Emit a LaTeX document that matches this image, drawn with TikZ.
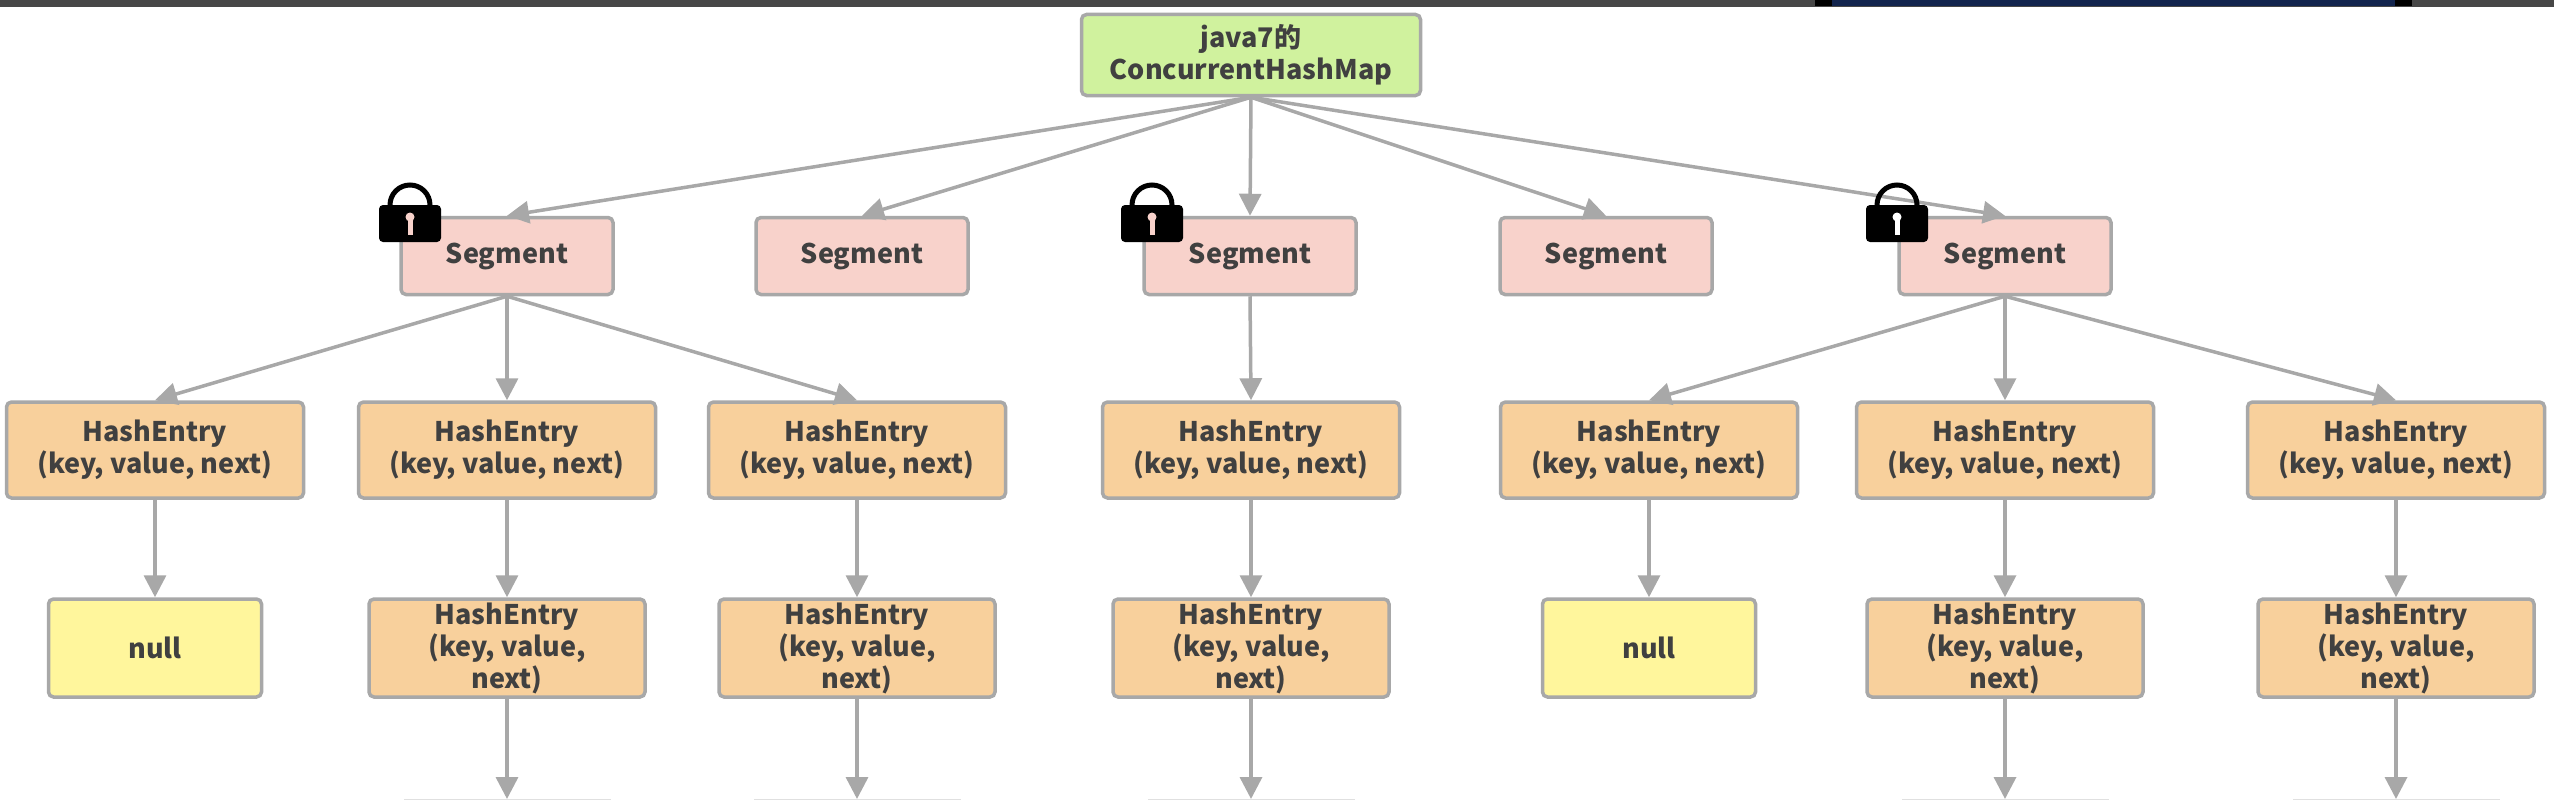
\documentclass[tikz,border=0pt]{standalone}
\usepackage{fontspec}
\usepackage{xcolor}
\setmainfont{Noto Sans CJK SC}
\usetikzlibrary{arrows.meta,positioning,calc}
\definecolor{rootgreen}{HTML}{D0F29E}
\definecolor{segpink}{HTML}{F8D2CB}
\definecolor{entryorange}{HTML}{F8D09C}
\definecolor{nullyellow}{HTML}{FFF69C}
\definecolor{edgegray}{HTML}{A8A8A8}
\definecolor{inkgray}{HTML}{404040}
\definecolor{stripnavy}{HTML}{12244D}
\tikzset{
  box/.style={draw=edgegray,line width=3.5pt,rounded corners=5pt,text=inkgray,align=center,
    font=\fontsize{27}{32}\selectfont\bfseries,inner sep=0pt},
  rootbox/.style={box,fill=rootgreen,minimum width=339pt,minimum height=81pt},
  segbox/.style={box,fill=segpink,minimum width=212pt,minimum height=77pt},
  entrybox/.style={box,fill=entryorange,minimum width=297pt,minimum height=96pt},
  smallentry/.style={box,fill=entryorange,minimum width=276pt,minimum height=98pt},
  nullbox/.style={box,fill=nullyellow,minimum width=213pt,minimum height=98pt},
  cutbox/.style={draw=black!12,line width=2pt,fill=white,minimum width=205pt,minimum height=20pt,inner sep=0pt},
  link/.style={draw=edgegray,line width=3.5pt,-{Triangle[length=22pt,width=22pt]}},
}
\newcommand{\padlock}[2]{%
  \draw[black,line width=5pt] (#1-20,222) -- (#1-20,205) arc[start angle=180,end angle=360,radius=20] -- (#1+20,222);
  \fill[black,rounded corners=4pt] (#1-31,205) rectangle (#1+31,242);
  \fill[#2] (#1,217) circle (4.5pt);
  \fill[#2] (#1-2.5,217) rectangle (#1+2.5,235);
}
\begin{document}
\begin{tikzpicture}[x=1pt,y=-1pt]
  \useasboundingbox (0,0) rectangle (2554,800);
  % window strip along the top
  \fill[black!72] (0,0) rectangle (2554,7);
  \fill[black] (1815,0) rectangle (2412,6);
  \fill[stripnavy] (1832,0) rectangle (2395,6);
  % boxes
  \node[rootbox] (root) at (1251,55) {java7的\\ConcurrentHashMap};
  \foreach \n/\x in {1/507,2/862,3/1250,4/1606,5/2005} {\node[segbox] (seg\n) at (\x,256) {Segment};}
  \foreach \n/\x in {1/155,2/507,3/857,4/1251,5/1649,6/2005,7/2396} {\node[entrybox] (top\n) at (\x,450) {HashEntry\\(key, value, next)};}
  \foreach \n/\x in {2/507,3/857,4/1251,6/2005,7/2396} {
    \node[smallentry] (low\n) at (\x,648) {HashEntry\\(key, value,\\next)};
    \node[cutbox] (cut\n) at (\x,810) {};
  }
  \node[nullbox] (null1) at (155,648) {null};
  \node[nullbox] (null5) at (1649,648) {null};
  % arrows
  \foreach \n in {1,...,5} {\draw[link] (root.south) -- (seg\n.north);}
  \foreach \s/\t in {1/1,1/2,1/3,3/4,5/5,5/6,5/7} {\draw[link] (seg\s.south) -- (top\t.north);}
  \foreach \n in {1,5} {\draw[link] (top\n) -- (null\n);}
  \foreach \n in {2,3,4,6,7} {
    \draw[link] (top\n) -- (low\n);
    \draw[link] (low\n) -- (cut\n);
  }
  % locks
  \padlock{410}{segpink}
  \padlock{1152}{segpink}
  \padlock{1897}{white}
\end{tikzpicture}
\end{document}
